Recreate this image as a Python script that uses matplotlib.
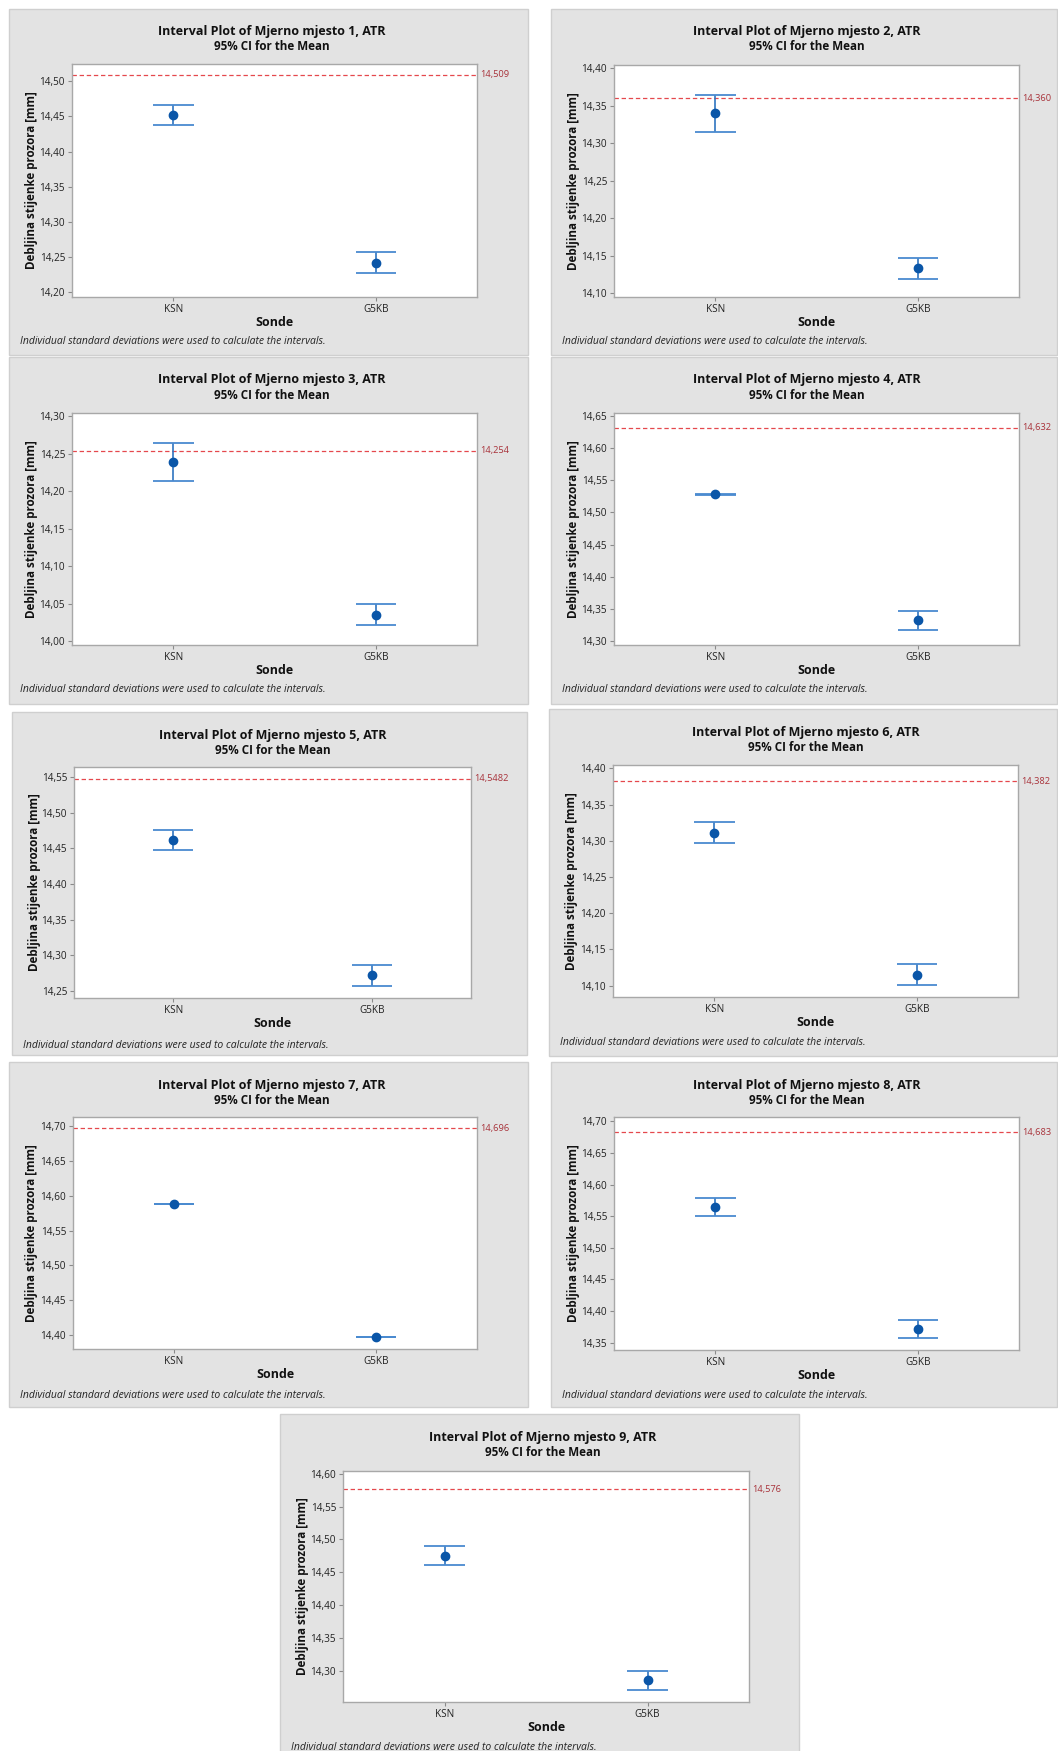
import matplotlib
import numpy as np
import matplotlib.pyplot as plt
from matplotlib.patches import Rectangle
from matplotlib.ticker import MultipleLocator, FuncFormatter

matplotlib.use('Agg')
plt.rcParams['font.family'] = ['Open Sans', 'DejaVu Sans']

sites = ['Mjerno mjesto %d' % i for i in range(1, 10)]
probes = ['KSN', 'G5KB']

ksn_mean = [14.4517, 14.3398, 14.2394, 14.5282, 14.4621, 14.3108, 14.5881, 14.5652, 14.4750]
ksn_lo = [14.4374, 14.3144, 14.2140, 14.5277, 14.4477, 14.2971, 14.5876, 14.5504, 14.4609]
ksn_hi = [14.4664, 14.3639, 14.2644, 14.5287, 14.4762, 14.3260, 14.5886, 14.5794, 14.4896]

g5kb_mean = [14.2417, 14.1331, 14.0353, 14.3321, 14.2724, 14.1151, 14.3976, 14.3722, 14.2860]
g5kb_lo = [14.2275, 14.1188, 14.0210, 14.3175, 14.2570, 14.1008, 14.3971, 14.3580, 14.2718]
g5kb_hi = [14.2569, 14.1469, 14.0500, 14.3467, 14.2860, 14.1298, 14.3981, 14.3865, 14.3000]

ref_vals = [14.509, 14.360, 14.254, 14.632, 14.5482, 14.382, 14.696, 14.683, 14.576]
ref_labels = ['14,509', '14,360', '14,254', '14,632', '14,5482', '14,382', '14,696', '14,683', '14,576']

ylims = [(14.1934, 14.5246), (14.0947, 14.4045), (13.9947, 14.3045), (14.2938, 14.6547),
         (14.2397, 14.5645), (14.0843, 14.4046), (14.3805, 14.7124), (14.3383, 14.7069),
         (14.2532, 14.6040)]

# panel boxes and plot boxes in pixels (x0, y0, x1, y1), y from top
panels = [(9, 9, 528, 355), (551, 9, 1057, 355),
          (9, 357, 528, 704), (551, 357, 1057, 704),
          (12, 712, 527, 1055), (549, 709, 1057, 1056),
          (9, 1062, 528, 1407), (551, 1062, 1057, 1407),
          (280, 1414, 799, 1760)]
plots = [(72, 64, 477, 297), (614, 65, 1019, 297),
         (72, 413, 477, 645), (614, 413, 1019, 645),
         (74, 767, 471, 998), (613, 765, 1018, 997),
         (73, 1117, 477, 1349), (614, 1117, 1019, 1350),
         (343, 1471, 749, 1702)]

W, H = 1058, 1751
fig = plt.figure(figsize=(W / 100, H / 100), dpi=100)
fig.patch.set_facecolor('white')


def fx(x):
    return x / W


def fy(y):
    return 1 - y / H


comma = FuncFormatter(lambda v, p: ('%.2f' % v).replace('.', ','))

for i in range(9):
    px0, py0, px1, py1 = panels[i]
    fig.patches.append(Rectangle((fx(px0), fy(py1)), fx(px1 - px0), (py1 - py0) / H,
                                 transform=fig.transFigure, facecolor='#e3e3e3',
                                 edgecolor='#cfcfcf', lw=1.0, zorder=-5))
    ax0, ay0, ax1, ay1 = plots[i]
    ax = fig.add_axes([fx(ax0), fy(ay1), fx(ax1 - ax0), (ay1 - ay0) / H])
    ax.set_zorder(2)
    ax.set_facecolor('white')
    for s in ax.spines.values():
        s.set_color('#a8a8a8')
        s.set_linewidth(1.0)

    xs = [1, 2]
    means = [ksn_mean[i], g5kb_mean[i]]
    los = [ksn_lo[i], g5kb_lo[i]]
    his = [ksn_hi[i], g5kb_hi[i]]
    ax.vlines(xs, los, his, color='#2f74c0', lw=1.2, zorder=2)
    ax.hlines(his, [x - 0.1 for x in xs], [x + 0.1 for x in xs], color='#4a8ad0', lw=1.3, zorder=2)
    ax.hlines(los, [x - 0.1 for x in xs], [x + 0.1 for x in xs], color='#4a8ad0', lw=1.3, zorder=2)
    ax.plot(xs, means, 'o', color='#0a56a8', ms=6, zorder=3)

    ax.axhline(ref_vals[i], color='#e5484d', lw=0.9, ls=(0, (3.5, 2.2)), zorder=1)
    ax.text(1.008, ref_vals[i], ref_labels[i], transform=ax.get_yaxis_transform(),
            ha='left', va='center', fontsize=6.7, color='#a8323a', clip_on=False)

    ax.set_xlim(0.5, 2.5)
    ax.set_ylim(*ylims[i])
    ax.set_xticks(xs)
    ax.set_xticklabels(probes)
    ax.yaxis.set_major_locator(MultipleLocator(0.05))
    ax.yaxis.set_major_formatter(comma)
    ax.tick_params(axis='both', direction='out', length=3, width=0.8, color='#8a8a8a',
                   labelsize=7.2, labelcolor='#222222', pad=2)

    ax.set_ylabel('Debljina stijenke prozora [mm]', fontsize=8.4, fontweight='bold',
                  color='#111111')
    ax.yaxis.set_label_coords((px0 + 29 - ax0) / (ax1 - ax0), 0.5)
    ax.set_xlabel('Sonde', fontsize=9.0, fontweight='bold', color='#111111', labelpad=1)

    cx = (px0 + px1) / 2 + 3
    fig.text(fx(cx), fy(py0 + 23), 'Interval Plot of %s, ATR' % sites[i], ha='center', va='center',
             fontsize=9.0, fontweight='bold', color='#111111')
    fig.text(fx(cx), fy(py0 + 38), '95% CI for the Mean', ha='center', va='center',
             fontsize=8.4, fontweight='bold', color='#111111')
    fig.text(fx(px0 + 11), fy(py0 + 333), 'Individual standard deviations were used to calculate the intervals.',
             ha='left', va='center', fontsize=7.5, style='italic', color='#222222')

fig.savefig('out.png', dpi=100, facecolor='white')
